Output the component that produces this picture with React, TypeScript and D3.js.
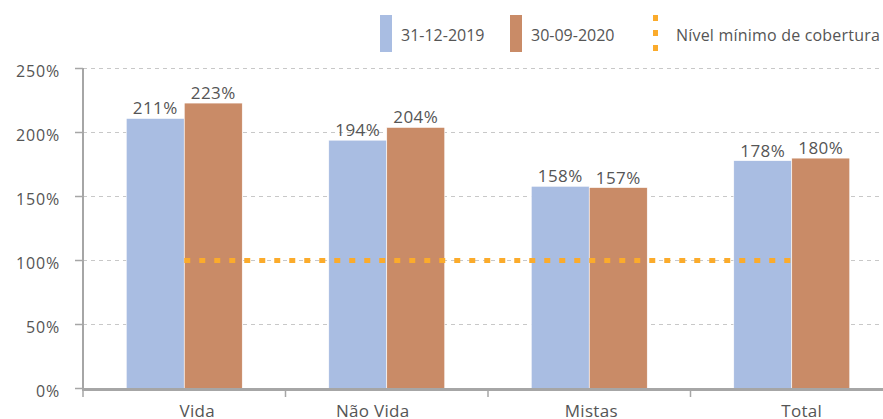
import React from 'react';
import * as d3 from 'd3';

const categories = ['Vida', 'Não Vida', 'Mistas', 'Total'];
const seriesNames = ['31-12-2019', '30-09-2020'];
const values2019 = [211, 194, 158, 178];
const values2020 = [223, 204, 157, 180];
const minLevel = [100, 100, 100, 100];
const yTicks = [0, 50, 100, 150, 200, 250];
const lineLabel = 'Nível mínimo de cobertura';

const W = 883;
const H = 419;
const FONT = "'Open Sans', 'Noto Sans', sans-serif";
const COLORS = ['#a9bde2', '#c98b67'];
const LINE_COLOR = '#fbab2b';
const TEXT = '#555';
// the category labels are not quite centred in the original
const labelNudge = [13, -14, 2, 10];

const App = () => {
  const x = d3.scaleBand().domain(categories).range([83, 893]);
  const y = d3.scaleLinear().domain([0, 250]).range([388.5, 68.5]);
  const barW = 58;
  const series = [values2019, values2020];
  const line = d3.line<number>()
    .x((_, i) => (x(categories[i]) as number) + x.bandwidth() / 2)
    .y(d => y(d));

  return (
    <svg width={W} height={H} style={{ position: 'absolute', left: 0, top: 0, overflow: 'hidden' }}>
      <rect width={W} height={H} fill="#fff" />
      {yTicks.map(t => (
        <g key={t}>
          {t > 0 && (
            <line x1={83} x2={W} y1={y(t)} y2={y(t)} stroke="#c8c8c8" strokeWidth={1} strokeDasharray="4,4" />
          )}
          <line x1={75} x2={83} y1={y(t)} y2={y(t)} stroke="#a6a6a6" strokeWidth={1.5} />
          <text x={60} y={y(t) + 8} textAnchor="end" fontFamily={FONT} fontSize={16} fontWeight={500} letterSpacing={0.8} fill={TEXT}>{t}%</text>
        </g>
      ))}
      {series.map((vals, s) =>
        vals.map((v, i) => {
          const bx = (x(categories[i]) as number) + x.bandwidth() / 2 - barW + s * barW;
          return (
            <g key={`${s}-${i}`}>
              <rect x={bx} y={y(v)} width={barW} height={y(0) - y(v)} fill={COLORS[s]} stroke="#fff" strokeWidth={0.6} />
              <text x={bx + barW / 2} y={y(v) - 4} textAnchor="middle" fontFamily={FONT} fontSize={17} fontWeight={500} letterSpacing={0.4} fill={TEXT}>{v}%</text>
            </g>
          );
        })
      )}
      <path d={line(minLevel) as string} fill="none" stroke={LINE_COLOR} strokeWidth={5} strokeDasharray="6,9" />
      <line x1={83} x2={83} y1={68} y2={390} stroke="#a6a6a6" strokeWidth={2} />
      <line x1={82} x2={W} y1={389.5} y2={389.5} stroke="#a6a6a6" strokeWidth={3} />
      {categories.map((c, i) => (
        <g key={c}>
          <line x1={(x(c) as number)} x2={(x(c) as number)} y1={389} y2={397} stroke="#a6a6a6" strokeWidth={1.5} />
          <text x={(x(c) as number) + x.bandwidth() / 2 + labelNudge[i]} y={417} textAnchor="middle" fontFamily={FONT} fontSize={17} fontWeight={500} letterSpacing={0.3} fill={TEXT}>{c}</text>
        </g>
      ))}
      {/* legend */}
      <rect x={380} y={15} width={12} height={37} fill={COLORS[0]} />
      <text x={401} y={41} fontFamily={FONT} fontSize={16} fontWeight={500} fill={TEXT}>{seriesNames[0]}</text>
      <rect x={510} y={15} width={12} height={37} fill={COLORS[1]} />
      <text x={531} y={41} fontFamily={FONT} fontSize={16} fontWeight={500} fill={TEXT}>{seriesNames[1]}</text>
      <line x1={655.5} x2={655.5} y1={15} y2={52} stroke={LINE_COLOR} strokeWidth={5} strokeDasharray="6,9" />
      <text x={676} y={41} fontFamily={FONT} fontSize={16} fontWeight={500} letterSpacing={0.2} fill={TEXT}>{lineLabel}</text>
    </svg>
  );
};

export default App;
